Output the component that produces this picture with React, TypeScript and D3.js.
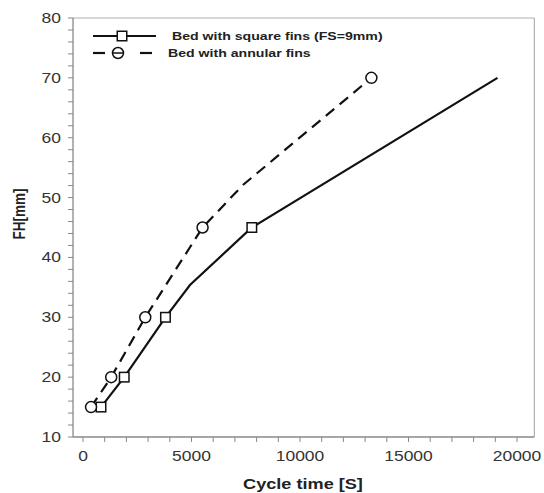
// Fin height vs cycle time chart
import React from "react";
import * as d3 from "d3";

// Series: bed with square fins (FS=9mm)
const squareTime = [830, 1900, 3800, 4930, 7780, 19100];
const squareFH = [15, 20, 30, 35.4, 45, 70];
const squareMarked = [true, true, true, false, true, false];

// Series: bed with annular fins
const annularTime = [370, 1300, 2870, 5510, 7370, 13290];
const annularFH = [15, 20, 30, 45, 52.1, 70];
const annularMarked = [true, true, true, true, false, true];

// Axis ticks
const xTickLabels = [0, 5000, 10000, 15000, 20000];
const yTickLabels = [10, 20, 30, 40, 50, 60, 70, 80];
const xMinorStep = 1000;
const yMinorStep = 2;

const legendLabels = ["Bed with square fins (FS=9mm)", "Bed with annular fins"];

const W = 544;
const H = 493;
const SX = 1.25; // the source picture is stretched sideways

const App: React.FC = () => {
  const x = d3.scaleLinear().domain([0, 20000]).range([83, 517]);
  const y = d3.scaleLinear().domain([10, 80]).range([437, 18]);
  const left = x(-460);
  const right = x(20800);
  const bottom = y(10);
  const top = y(80);

  const line = d3
    .line<[number, number]>()
    .x((d) => x(d[0]))
    .y((d) => y(d[1]));

  const squarePts = squareTime.map((t, i) => [t, squareFH[i]] as [number, number]);
  const annularPts = annularTime.map((t, i) => [t, annularFH[i]] as [number, number]);

  const xMinor = d3.range(0, 20001, xMinorStep);
  const yMinor = d3.range(10, 80.01, yMinorStep);

  const sq = 9.5;
  const r = 5.5;

  const font = "'Liberation Sans', Arial, sans-serif";

  return (
    <svg
      width={W}
      height={H}
      style={{ position: "absolute", left: 0, top: 0, background: "#fff" }}
      fontFamily={font}
    >
      {/* frame */}
      <line x1={left} x2={right} y1={top} y2={top} stroke="#b0b0b0" strokeWidth={1.2} />
      <line x1={right} x2={right} y1={top} y2={bottom} stroke="#b0b0b0" strokeWidth={1.2} />
      <line x1={left} x2={right} y1={bottom} y2={bottom} stroke="#888" strokeWidth={1.3} />
      <line x1={left} x2={left} y1={top} y2={bottom} stroke="#888" strokeWidth={1.3} />

      {/* x ticks */}
      {xMinor.map((t) => (
        <line key={"xt" + t} x1={x(t)} x2={x(t)} y1={bottom} y2={bottom + 5} stroke="#888" strokeWidth={1} />
      ))}
      {xTickLabels.map((t) => (
        <text
          key={"xl" + t}
          transform={`translate(${x(t)},${bottom + 24}) scale(${SX},1)`}
          textAnchor="middle"
          fontSize={14}
          fill="#333"
        >
          {t}
        </text>
      ))}

      {/* y ticks */}
      {yMinor.map((t) => (
        <line key={"yt" + t} x1={left - 5} x2={left} y1={y(t)} y2={y(t)} stroke="#888" strokeWidth={1} />
      ))}
      {yTickLabels.map((t) => (
        <text
          key={"yl" + t}
          transform={`translate(${left - 12},${y(t) + 5}) scale(${SX},1)`}
          textAnchor="end"
          fontSize={14}
          fill="#333"
        >
          {t}
        </text>
      ))}

      {/* axis titles */}
      <text
        transform={`translate(303,489) scale(${SX},1)`}
        textAnchor="middle"
        fontSize={14.5}
        fontWeight="bold"
        fill="#222"
      >
        Cycle time [S]
      </text>
      <text
        transform={`translate(25,214) rotate(-90) scale(1,${SX})`}
        textAnchor="middle"
        fontSize={13.5}
        fontWeight="bold"
        fill="#222"
      >
        FH[mm]
      </text>

      {/* series lines */}
      <path d={line(squarePts) ?? ""} fill="none" stroke="#111" strokeWidth={2.2} />
      <path
        d={line(annularPts) ?? ""}
        fill="none"
        stroke="#111"
        strokeWidth={2.2}
        strokeDasharray="11,7"
      />

      {/* markers */}
      {squarePts.map((p, i) =>
        squareMarked[i] ? (
          <rect
            key={"sq" + i}
            x={x(p[0]) - sq / 2}
            y={y(p[1]) - sq / 2}
            width={sq}
            height={sq}
            fill="#fff"
            stroke="#111"
            strokeWidth={1.5}
          />
        ) : null
      )}
      {annularPts.map((p, i) =>
        annularMarked[i] ? (
          <circle key={"ci" + i} cx={x(p[0])} cy={y(p[1])} r={r} fill="#fff" stroke="#111" strokeWidth={1.5} />
        ) : null
      )}

      {/* legend */}
      <g>
        <line x1={93} x2={156} y1={36} y2={36} stroke="#111" strokeWidth={2.2} />
        <rect x={122 - sq / 2} y={36 - sq / 2} width={sq} height={sq} fill="#fff" stroke="#111" strokeWidth={1.5} />
        <text transform={`translate(172,40) scale(${SX},1)`} fontSize={11.3} fontWeight="bold" fill="#222">
          {legendLabels[0]}
        </text>

        <line x1={93} x2={105} y1={53} y2={53} stroke="#111" strokeWidth={2.2} />
        <line x1={140} x2={152} y1={53} y2={53} stroke="#111" strokeWidth={2.2} />
        <circle cx={118} cy={53} r={r} fill="#fff" stroke="#111" strokeWidth={1.5} />
        <line x1={112} x2={124} y1={53} y2={53} stroke="#111" strokeWidth={1.5} />
        <text transform={`translate(168,57) scale(${SX},1)`} fontSize={11.3} fontWeight="bold" fill="#222">
          {legendLabels[1]}
        </text>
      </g>
    </svg>
  );
};

export default App;
